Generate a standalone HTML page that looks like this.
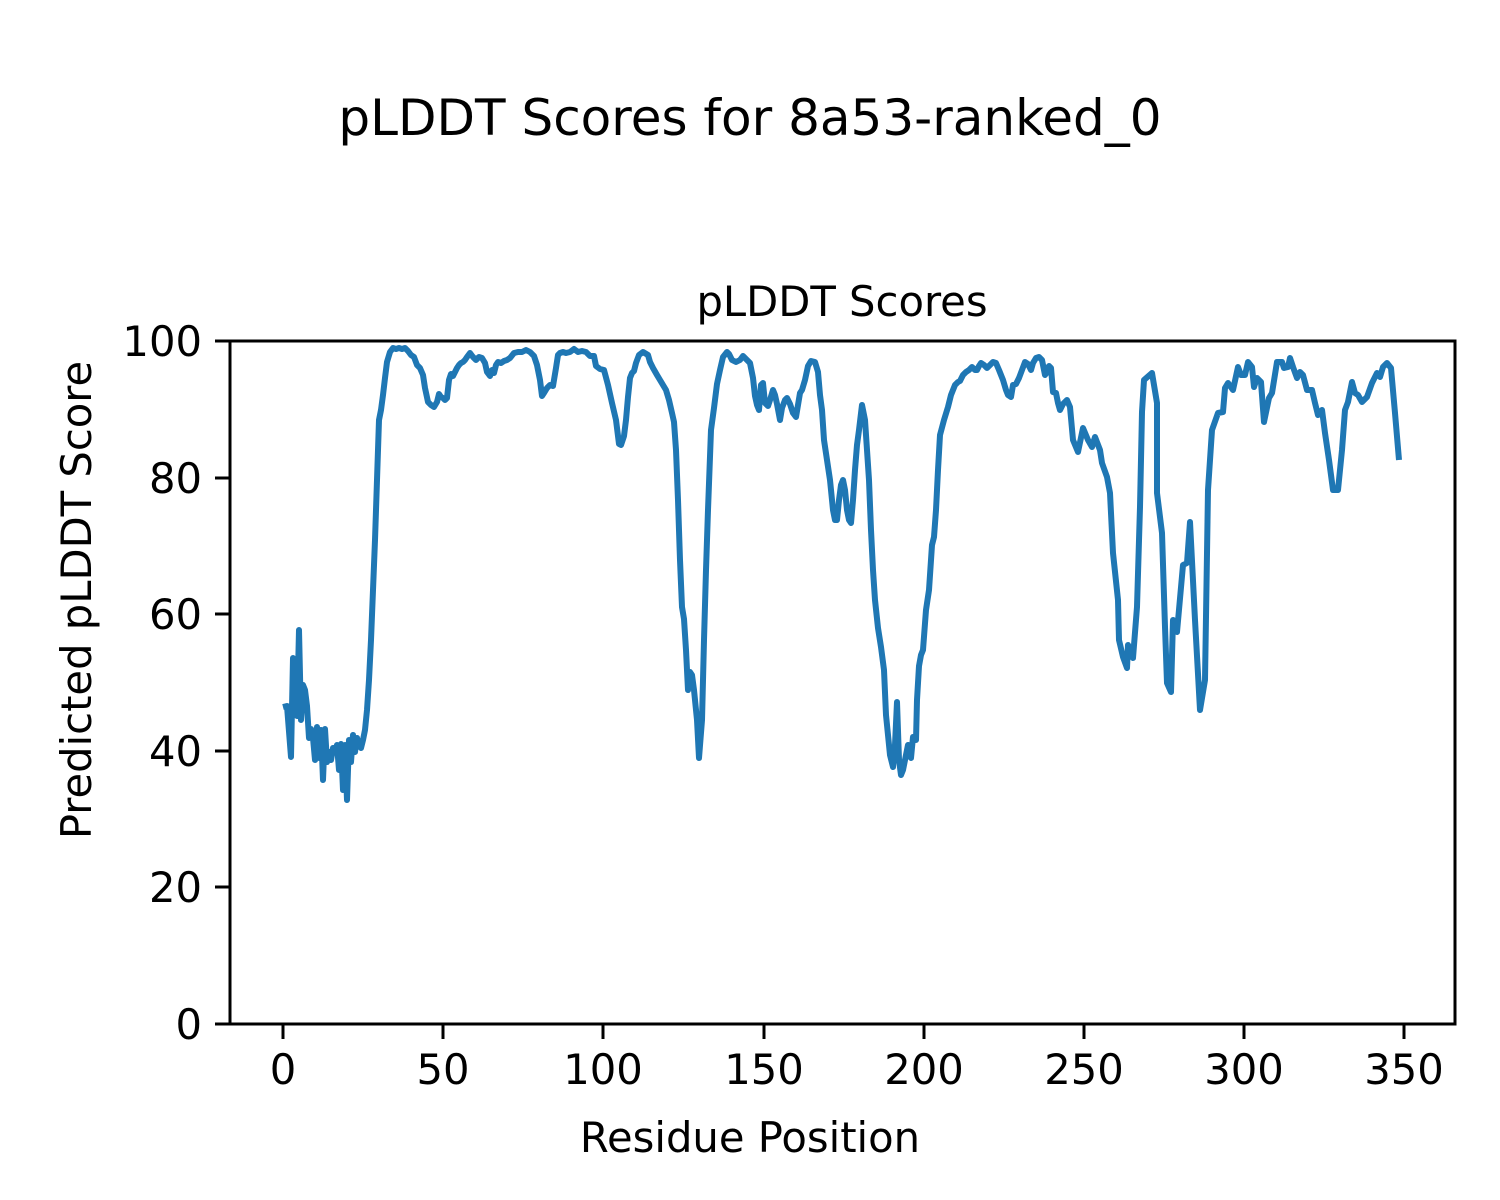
<!DOCTYPE html>
<html><head><meta charset="utf-8"><style>body{margin:0;background:#fff}svg{display:block}text{font-family:"DejaVu Sans","Liberation Sans",sans-serif;fill:#000}</style></head><body>
<svg width="1500" height="1200" viewBox="0 0 1500 1200" xmlns="http://www.w3.org/2000/svg">
<rect width="1500" height="1200" fill="#fff"/>
<text x="750" y="135" font-size="50" text-anchor="middle">pLDDT Scores for 8a53-ranked_0</text>
<text x="842" y="316" font-size="41.7" text-anchor="middle">pLDDT Scores</text>
<g stroke="#000" stroke-width="3">
<line x1="283" y1="1024" x2="283" y2="1039"/><line x1="443" y1="1024" x2="443" y2="1039"/><line x1="603" y1="1024" x2="603" y2="1039"/><line x1="764" y1="1024" x2="764" y2="1039"/><line x1="924" y1="1024" x2="924" y2="1039"/><line x1="1084" y1="1024" x2="1084" y2="1039"/><line x1="1244" y1="1024" x2="1244" y2="1039"/><line x1="1404" y1="1024" x2="1404" y2="1039"/>
<line x1="215" y1="1024" x2="230" y2="1024"/><line x1="215" y1="887" x2="230" y2="887"/><line x1="215" y1="751" x2="230" y2="751"/><line x1="215" y1="614" x2="230" y2="614"/><line x1="215" y1="478" x2="230" y2="478"/><line x1="215" y1="341" x2="230" y2="341"/>
</g>
<g font-size="41.7" text-anchor="middle">
<text x="283" y="1084">0</text><text x="443" y="1084">50</text><text x="603" y="1084">100</text><text x="764" y="1084">150</text><text x="924" y="1084">200</text><text x="1084" y="1084">250</text><text x="1244" y="1084">300</text><text x="1404" y="1084">350</text>
</g>
<g font-size="41.7" text-anchor="end">
<text x="202" y="1039">0</text><text x="202" y="902">20</text><text x="202" y="766">40</text><text x="202" y="629">60</text><text x="202" y="493">80</text><text x="202" y="356">100</text>
</g>
<text x="750" y="1152" font-size="41.7" text-anchor="middle">Residue Position</text>
<text transform="translate(91,600) rotate(-90)" font-size="41.7" text-anchor="middle">Predicted pLDDT Score</text>
<polyline fill="none" stroke="#1f77b4" stroke-width="6" stroke-linejoin="round" points="283,707 287,706 291,757 293,658 295,690 297,716 299,630 301,720 303,685 305,690 307,706 309,738 311,729 313,738 315,760 317,727 319,758 321,730 323,780 325,729 327,762 329,752 331,760 333,748 335,752 337,745 339,770 341,744 343,790 345,745 347,800 349,740 351,762 353,735 355,752 357,738 359,745 361,748 363,740 365,730 367,710 369,680 371,640 373,590 375,540 377,480 379,420 381,410 383,395 385,378 387,362 390,352 393,348 396,349 399,348 402,349 405,348 408,351 411,355 414,357 417,365 420,368 423,375 425,388 428,402 431,405 434,407 437,402 439,394 441,397 443,398 445,400 447,398 449,380 451,374 453,376 455,372 457,368 459,365 461,363 463,362 465,360 467,357 470,353 473,357 476,360 479,357 482,358 485,363 487,372 490,376 492,370 494,373 496,365 498,362 501,363 504,361 507,360 510,358 514,353 518,352 522,352 526,350 530,352 534,356 537,365 540,380 542,396 544,393 547,388 550,385 553,386 556,368 558,355 560,353 563,352 566,353 570,352 574,349 578,352 582,351 586,352 590,356 594,356 596,366 600,369 604,370 608,385 612,403 616,420 619,444 621,445 624,436 626,420 628,397 630,378 632,373 634,371 636,363 639,355 643,352 648,355 650,362 653,368 657,375 660,380 663,385 666,390 669,400 672,413 674,422 676,450 678,500 680,560 682,607 684,619 686,650 688,690 690,672 692,675 694,690 697,720 699,758 702,720 704,640 706,570 708,510 711,430 714,408 717,384 720,370 723,357 727,352 729,354 732,360 736,362 740,360 743,356 747,360 750,363 753,378 755,396 757,405 759,410 761,385 763,383 765,403 768,406 770,400 773,390 775,395 777,404 780,420 782,408 785,400 787,398 790,404 793,413 796,417 798,405 800,393 802,390 805,380 808,366 811,361 815,362 818,372 820,395 822,410 824,440 827,460 830,480 833,510 835,520 837,520 839,500 841,485 843,480 845,490 847,510 849,520 851,523 853,500 855,470 857,445 859,430 862,405 865,420 867,450 869,480 871,530 873,570 875,600 878,628 881,647 884,670 886,715 888,735 890,755 893,767 895,745 897,702 899,760 901,775 903,770 905,760 908,745 911,758 913,737 916,740 917,700 919,666 921,655 923,650 926,610 929,590 932,545 934,537 936,510 938,470 940,435 944,420 948,407 951,395 955,385 958,382 960,381 963,375 966,372 969,370 972,367 975,370 977,370 979,366 981,363 984,365 987,368 990,365 993,362 996,363 999,370 1003,380 1006,390 1008,395 1011,397 1013,385 1016,384 1019,378 1022,370 1025,362 1028,364 1031,370 1033,363 1036,358 1039,357 1042,360 1045,375 1047,372 1049,366 1051,368 1053,392 1056,393 1058,403 1060,410 1063,404 1067,400 1070,407 1073,440 1078,452 1083,428 1088,440 1092,447 1095,437 1100,450 1102,463 1107,477 1110,493 1113,553 1118,600 1119,640 1123,657 1127,668 1128,645 1133,658 1137,607 1140,507 1142,412 1144,380 1152,373 1157,403 1157,493 1162,533 1165,627 1167,683 1171,692 1173,620 1177,632 1183,565 1187,563 1190,522 1195,620 1200,710 1205,680 1208,490 1212,430 1218,413 1223,412 1225,388 1228,383 1233,390 1238,367 1241,375 1245,375 1248,362 1252,367 1254,387 1257,378 1261,382 1264,422 1269,398 1272,393 1277,362 1282,362 1284,368 1288,367 1290,358 1293,367 1297,378 1300,372 1303,375 1307,390 1312,390 1315,403 1318,415 1322,410 1325,433 1329,460 1333,490 1338,490 1342,450 1345,410 1348,402 1352,382 1355,393 1358,395 1362,402 1367,397 1372,383 1377,373 1380,377 1383,367 1387,363 1391,368 1395,413 1399,460"/>
<rect x="230" y="341" width="1225" height="683" fill="none" stroke="#000" stroke-width="3"/>
</svg>
</body></html>
